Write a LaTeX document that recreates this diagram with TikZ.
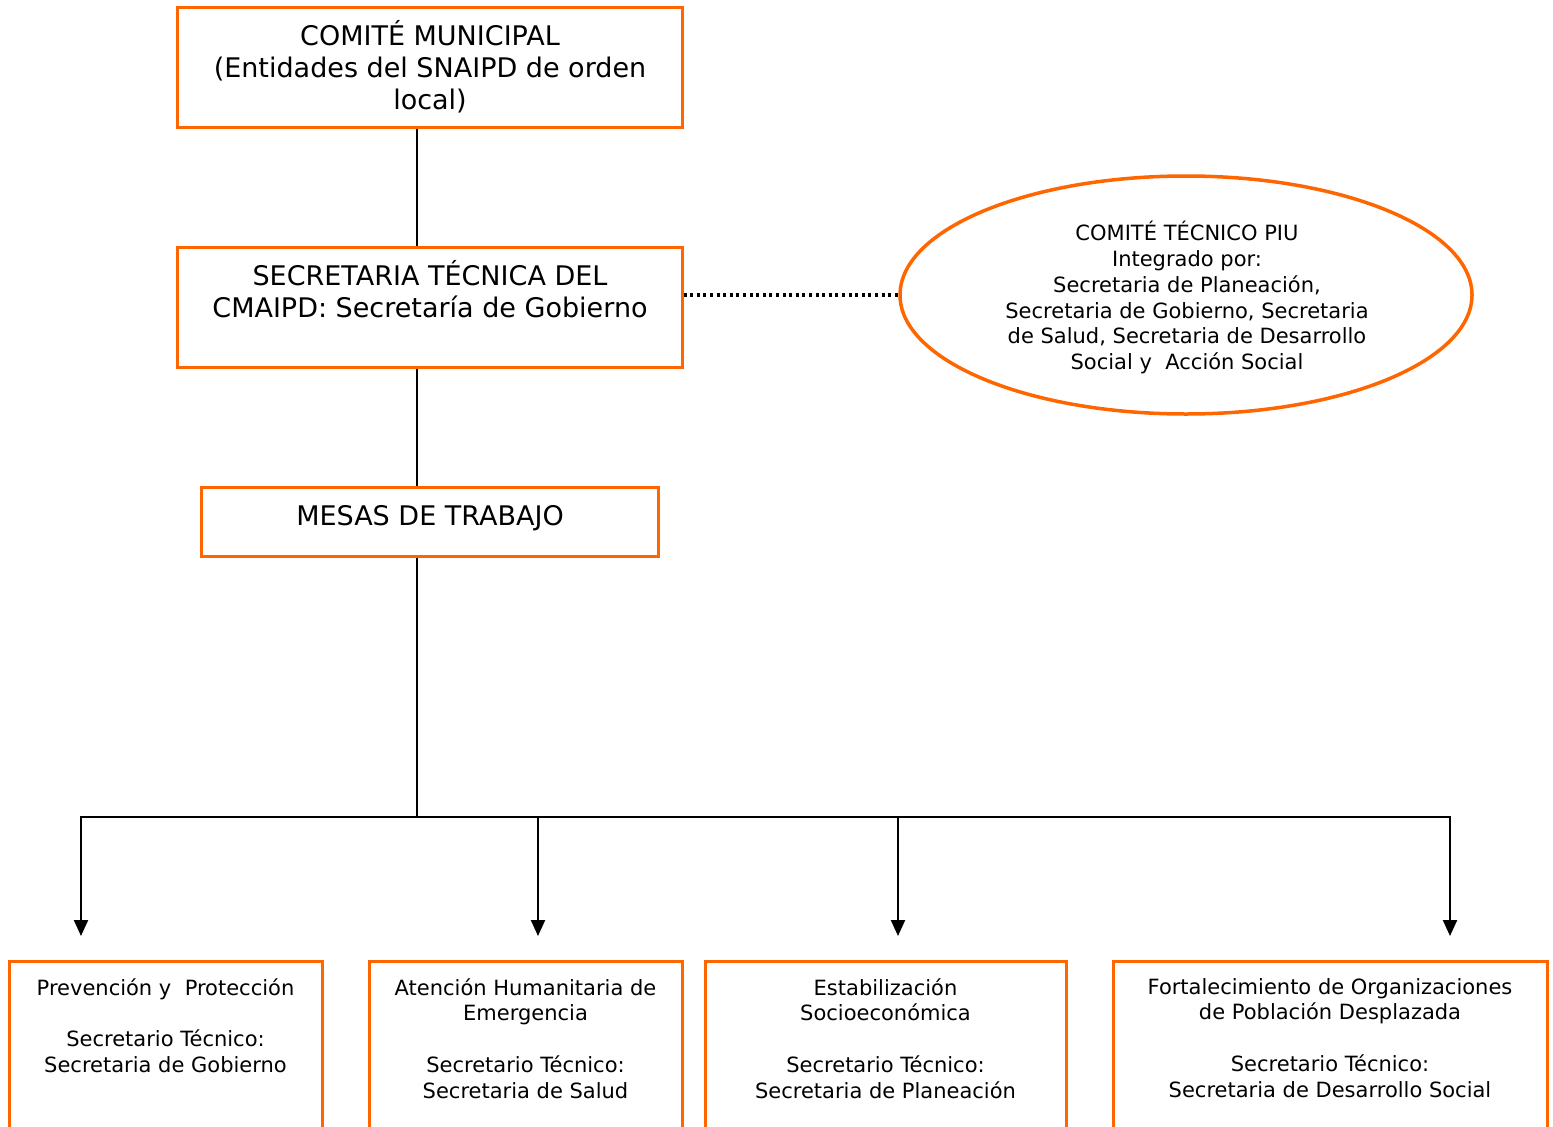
\documentclass[tikz,border=0pt]{standalone}
\usepackage{fontspec}
\setmainfont{DejaVu Sans}
\usetikzlibrary{arrows.meta,shapes.geometric}
\definecolor{org}{HTML}{FF6600}
\begin{document}
\begin{tikzpicture}[x=1pt,y=-1pt,
  box/.style={draw=org, line width=3pt, inner sep=0pt},
  big/.style={font=\fontsize{27}{32}\selectfont, align=center, inner sep=0pt, anchor=north},
  small/.style={font=\fontsize{21}{25.8}\selectfont, align=center, inner sep=0pt, anchor=north},
  conn/.style={line width=2.2pt},
  arr/.style={conn, -{Triangle[width=14pt,length=16pt]}}]
\useasboundingbox (0,0) rectangle (1553,1127);

% boxes
\node[box, minimum width=505pt, minimum height=120pt] (b1) at (429.5,67) {};
\node[box, minimum width=505pt, minimum height=120pt] (b2) at (429.5,307) {};
\node[box, minimum width=457pt, minimum height=69pt] (b3) at (429.5,521.5) {};
\node[ellipse, draw=org, line width=3.5pt, minimum width=572pt, minimum height=238pt, inner sep=0pt] (el) at (1186,295) {};
\node[box, minimum width=313pt, minimum height=179pt] (m1) at (165.5,1050.5) {};
\node[box, minimum width=313pt, minimum height=179pt] (m2) at (525.5,1050.5) {};
\node[box, minimum width=361pt, minimum height=179pt] (m3) at (885.5,1050.5) {};
\node[box, minimum width=434pt, minimum height=179pt] (m4) at (1330,1050.5) {};

% texts
\node[big] (t1) at (430,20) {COMITÉ MUNICIPAL\\(Entidades del SNAIPD de orden\\local)};
\node[big] (t2) at (430,260) {SECRETARIA TÉCNICA DEL\\CMAIPD: Secretaría de Gobierno};
\node[big] (t3) at (430,505) {MESAS DE TRABAJO};
\node[small] (te) at (1187,221) {COMITÉ TÉCNICO PIU\\Integrado por:\\Secretaria de Planeación,\\Secretaria de Gobierno, Secretaria\\de Salud, Secretaria de Desarrollo\\Social y\ \ Acción Social};
\node[small] (s1) at (165.5,978) {Prevención y\ \ Protección\\[25.8pt]Secretario Técnico:\\Secretaria de Gobierno};
\node[small] (s2) at (525.5,978) {Atención Humanitaria de\\Emergencia\\[25.8pt]Secretario Técnico:\\Secretaria de Salud};
\node[small] (s3) at (885.5,978) {Estabilización\\Socioeconómica\\[25.8pt]Secretario Técnico:\\Secretaria de Planeación};
\node[small] (s4) at (1330,978) {Fortalecimiento de Organizaciones\\de Población Desplazada\\[25.8pt]Secretario Técnico:\\Secretaria de Desarrollo Social};

% connectors
\coordinate (j) at (417,817);
\coordinate (a1) at (81,936);
\coordinate (a2) at (538,936);
\coordinate (a3) at (898,936);
\coordinate (a4) at (1450,936);
\draw[conn] (b1.south -| j) -- (b2.north -| j);
\draw[conn] (b2.south -| j) -- (b3.north -| j);
\draw[conn] (b3.south -| j) -- (j);
\draw[arr] (j) -| (a1);
\draw[arr] (j) -| (a2);
\draw[arr] (j) -| (a3);
\draw[arr] (j) -| (a4);
\draw[line width=3.5pt, dash pattern=on 3pt off 3.6pt] (b2.east |- el.west) -- (el.west);
\end{tikzpicture}
\end{document}
